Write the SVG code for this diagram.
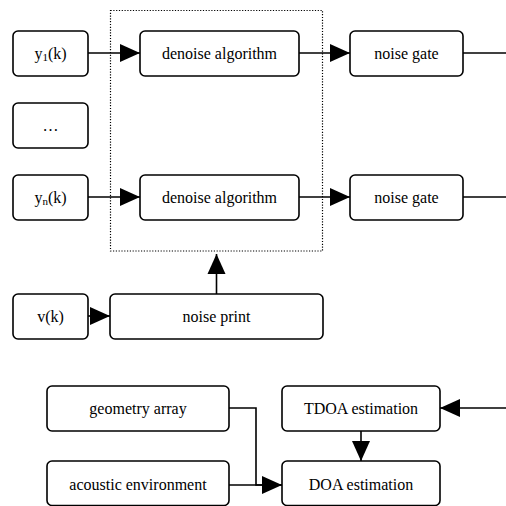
<svg xmlns="http://www.w3.org/2000/svg" width="506" height="506" viewBox="0 0 506 506" font-family="Liberation Serif, Times New Roman, serif">
  <style>
    .box { fill: #fff; stroke: #000; stroke-width: 1.6; }
    .lbl { font-size: 16px; fill: #000; text-anchor: middle; }
    .wire { fill: none; stroke: #000; stroke-width: 1.6; }
    .group { fill: none; stroke: #000; stroke-width: 1.2; stroke-dasharray: 1.2 1.6; }
  </style>
  <defs>
    <marker id="head" markerUnits="userSpaceOnUse" markerWidth="21" markerHeight="19" refX="20" refY="9.5" orient="auto">
      <path d="M0,0.5 L20,9.5 L0,18.5 Z" fill="#000"/>
    </marker>
  </defs>

  <rect id="denoise-group" class="group" x="110.5" y="10.5" width="212" height="240.5"/>

  <g id="connectors">
    <path class="wire" d="M88,53 H140" marker-end="url(#head)"/>
    <path class="wire" d="M299,53 H350" marker-end="url(#head)"/>
    <path class="wire" d="M463,53 H506"/>
    <path class="wire" d="M88,197 H140" marker-end="url(#head)"/>
    <path class="wire" d="M299,197 H350" marker-end="url(#head)"/>
    <path class="wire" d="M463,197 H506"/>
    <path class="wire" d="M88,316 H110" marker-end="url(#head)"/>
    <path class="wire" d="M216.5,294 V254" marker-end="url(#head)"/>
    <path class="wire" d="M506,408 H440" marker-end="url(#head)"/>
    <path class="wire" d="M361,431 V461" marker-end="url(#head)"/>
    <path class="wire" d="M229,408 H256 V485 H282" marker-end="url(#head)"/>
    <path class="wire" d="M229,485 H282"/>
  </g>

  <g id="y1">
    <rect class="box" x="13" y="31" width="75" height="45" rx="5"/>
    <text class="lbl" font-family="Liberation Serif, serif" x="50.5" y="58.5">y<tspan font-size="11" dy="2">1</tspan><tspan dy="-2">(k)</tspan></text>
  </g>
  <g id="ellipsis">
    <rect class="box" x="13" y="103" width="75" height="45" rx="5"/>
    <text class="lbl" font-family="Liberation Serif, serif" x="50.5" y="130.5">…</text>
  </g>
  <g id="yn">
    <rect class="box" x="13" y="175" width="75" height="45" rx="5"/>
    <text class="lbl" font-family="Liberation Serif, serif" x="50.5" y="202.5">y<tspan font-size="11" dy="2">n</tspan><tspan dy="-2">(k)</tspan></text>
  </g>
  <g id="denoise1">
    <rect class="box" x="140" y="31" width="159" height="45" rx="5"/>
    <text class="lbl" font-family="Liberation Serif, serif" x="219.5" y="58.5">denoise algorithm</text>
  </g>
  <g id="denoise2">
    <rect class="box" x="140" y="175" width="159" height="45" rx="5"/>
    <text class="lbl" font-family="Liberation Serif, serif" x="219.5" y="202.5">denoise algorithm</text>
  </g>
  <g id="gate1">
    <rect class="box" x="350" y="31" width="113" height="45" rx="5"/>
    <text class="lbl" font-family="Liberation Serif, serif" x="406.5" y="58.5">noise gate</text>
  </g>
  <g id="gate2">
    <rect class="box" x="350" y="175" width="113" height="45" rx="5"/>
    <text class="lbl" font-family="Liberation Serif, serif" x="406.5" y="202.5">noise gate</text>
  </g>
  <g id="vk">
    <rect class="box" x="13" y="294" width="75" height="45" rx="5"/>
    <text class="lbl" font-family="Liberation Serif, serif" x="50.5" y="321.5">v(k)</text>
  </g>
  <g id="noise-print">
    <rect class="box" x="110" y="294" width="213" height="45" rx="5"/>
    <text class="lbl" font-family="Liberation Serif, serif" x="216.5" y="321.5">noise print</text>
  </g>
  <g id="geometry">
    <rect class="box" x="47" y="386" width="182" height="45" rx="5"/>
    <text class="lbl" font-family="Liberation Serif, serif" x="138" y="413.5">geometry array</text>
  </g>
  <g id="acoustic">
    <rect class="box" x="47" y="461" width="182" height="44.5" rx="5"/>
    <text class="lbl" font-family="Liberation Serif, serif" x="138" y="489.5">acoustic environment</text>
  </g>
  <g id="tdoa">
    <rect class="box" x="282" y="386" width="158" height="45" rx="5"/>
    <text class="lbl" font-family="Liberation Serif, serif" x="361" y="413.5">TDOA estimation</text>
  </g>
  <g id="doa">
    <rect class="box" x="282" y="461" width="158" height="44.5" rx="5"/>
    <text class="lbl" font-family="Liberation Serif, serif" x="361" y="489.5">DOA estimation</text>
  </g>
</svg>
